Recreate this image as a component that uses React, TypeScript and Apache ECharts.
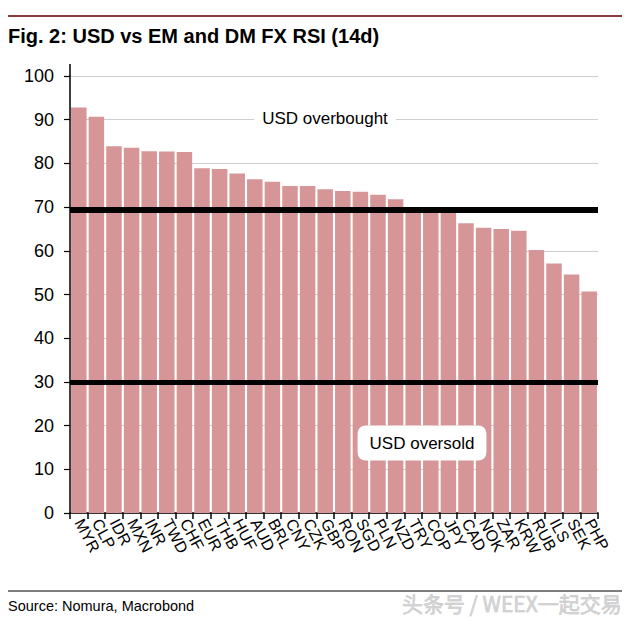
import React, { useEffect, useRef } from "react";
import * as echarts from "echarts";

const categories = ["MYR","CLP","IDR","MXN","INR","TWD","CHF","EUR","THB","HUF","AUD","BRL","CNY","CZK","GBP","RON","SGD","PLN","NZD","TRY","COP","JPY","CAD","NOK","ZAR","KRW","RUB","ILS","SEK","PHP"];
const rsiValues = [92.8,90.7,83.9,83.6,82.8,82.7,82.6,78.9,78.7,77.7,76.4,75.8,74.8,74.8,74.1,73.7,73.5,72.8,71.8,69.5,69.4,69.3,66.3,65.3,65.0,64.6,60.2,57.1,54.6,50.7];
const overboughtLevel = 69.3;
const oversoldLevel = 30;
const yTicks = { min: 0, max: 100, interval: 10 };

const titleText = "Fig. 2: USD vs EM and DM FX RSI (14d)";
const sourceText = "Source: Nomura, Macrobond";
const watermarkText = "头条号 / WEEX一起交易";

export default function App() {
  const ref = useRef<HTMLDivElement>(null);
  useEffect(() => {
    if (!ref.current) return;
    const chart = echarts.init(ref.current, null, { renderer: "svg" });
    const font = "Liberation Sans, Arial, sans-serif";
    chart.setOption({
      animation: false,
      backgroundColor: "#ffffff",
      textStyle: { fontFamily: font },
      grid: { left: 70, right: 42, top: 76, bottom: 110, containLabel: false },
      xAxis: {
        type: "category",
        data: categories,
        axisLine: { lineStyle: { color: "#000", width: 1.5 } },
        axisTick: { show: true, length: 6, lineStyle: { color: "#000", width: 1.5 } },
        axisLabel: { rotate: -62, color: "#000", fontSize: 16, margin: 7, interval: 0, fontFamily: font },
      },
      yAxis: {
        type: "value",
        min: yTicks.min,
        max: yTicks.max,
        interval: yTicks.interval,
        axisLine: { show: true, lineStyle: { color: "#000", width: 1.5 } },
        axisTick: { show: true, length: 6, lineStyle: { color: "#000", width: 1.2 } },
        axisLabel: { color: "#000", fontSize: 18, margin: 16, fontFamily: font },
        splitLine: { show: true, lineStyle: { color: "#cfcfcf", width: 1 } },
      },
      series: [
        {
          type: "bar",
          data: rsiValues,
          barCategoryGap: "12%",
          itemStyle: { color: "#d69597" },
          z: 2,
          markLine: {
            silent: true,
            symbol: "none",
            label: { show: false },
            z: 5,
            data: [
              { yAxis: overboughtLevel, lineStyle: { color: "#000", width: 6, type: "solid" } },
              { yAxis: oversoldLevel, lineStyle: { color: "#000", width: 5, type: "solid" } },
            ],
          },
        },
      ],
      graphic: [
        { type: "line", shape: { x1: 8, y1: 16, x2: 622, y2: 16 }, style: { stroke: "#8a3a3a", lineWidth: 2 } },
        { type: "text", left: 8, top: 26, style: { text: titleText, fontSize: 20, fontWeight: "bold", fill: "#000", fontFamily: font } },
        { type: "line", shape: { x1: 70, y1: 64, x2: 70, y2: 77 }, style: { stroke: "#000", lineWidth: 1.5 } },
        {
          type: "text", x: 325, y: 118, z: 10,
          style: {
            text: "USD overbought", fontSize: 17, fill: "#000", fontFamily: font,
            align: "center", verticalAlign: "middle",
            backgroundColor: "#fff", padding: [3, 8],
          },
        },
        {
          type: "text", x: 422, y: 443, z: 10,
          style: {
            text: "USD oversold", fontSize: 17, fill: "#000", fontFamily: font,
            align: "center", verticalAlign: "middle",
            backgroundColor: "#fff", padding: [9, 12], borderRadius: 8,
          },
        },
        { type: "line", shape: { x1: 8, y1: 591, x2: 622, y2: 591 }, style: { stroke: "#000", lineWidth: 1 } },
        { type: "text", left: 8, top: 598, style: { text: sourceText, fontSize: 14.5, fill: "#000", fontFamily: font } },
        {
          type: "text", right: 18, top: 592,
          style: { text: watermarkText, fontSize: 21, fill: "#d2d2d2", stroke: "#b8b8b8", lineWidth: 0.5, fontFamily: "Noto Sans CJK SC, sans-serif" },
        },
      ],
    });
    return () => chart.dispose();
  }, []);
  return <div ref={ref} style={{ position: "fixed", left: 0, top: 0, width: 640, height: 623 }} />;
}
